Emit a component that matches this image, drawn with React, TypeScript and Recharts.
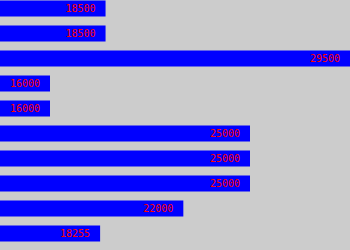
import React from 'react';
import { BarChart, Bar, XAxis, YAxis, LabelList } from 'recharts';

const rows = ['r1', 'r2', 'r3', 'r4', 'r5', 'r6', 'r7', 'r8', 'r9', 'r10'];
const salaries = [18500, 18500, 29500, 16000, 16000, 25000, 25000, 25000, 22000, 18255];

const data = rows.map((name, i) => ({ name, value: salaries[i] }));

const App: React.FC = () => {
  return (
    <div
      style={{
        position: 'absolute',
        left: 0,
        top: 0,
        width: 350,
        height: 250,
        background: '#cccccc',
        overflow: 'hidden',
      }}
    >
      <BarChart
        width={350}
        height={250}
        data={data}
        layout="vertical"
        margin={{ top: -4.5, right: 0, bottom: 4.5, left: 0 }}
        barSize={16}
      >
        <XAxis type="number" hide domain={[13750, 29500]} allowDataOverflow />
        <YAxis type="category" dataKey="name" hide />
        <Bar dataKey="value" fill="#0000ff" isAnimationActive={false}>
          <LabelList
            dataKey="value"
            position="insideRight"
            offset={10}
            fill="#ff0000"
            style={{ fontFamily: '"DejaVu Sans Mono", monospace', fontSize: 10 }}
          />
        </Bar>
      </BarChart>
    </div>
  );
};

export default App;
